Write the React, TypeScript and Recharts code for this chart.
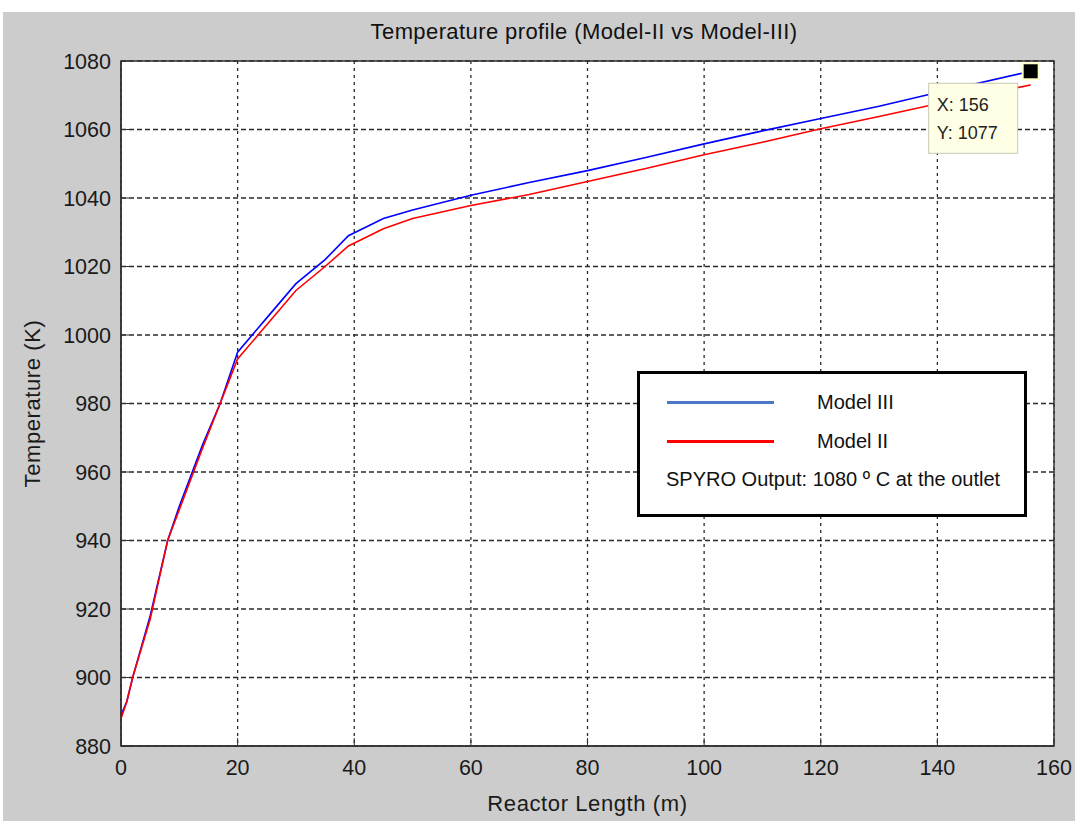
import {
  LineChart,
  Line,
  XAxis,
  YAxis,
  CartesianGrid,
  ReferenceArea,
  ReferenceDot,
} from "recharts";

// reactor length (m) sample points
const lengthM = [0, 1, 2, 5, 8, 10, 14, 17, 20, 25, 30, 35, 39, 45, 50, 60, 70, 80, 90, 100, 110, 120, 130, 140, 156];
// temperatures (K)
const modelIII = [889, 893, 900, 918, 940, 950, 968, 980, 995, 1005, 1015, 1022, 1029, 1034, 1036.5, 1040.8, 1044.5, 1048, 1051.8, 1055.8, 1059.6, 1063.2, 1066.8, 1070.8, 1077];
const modelII = [888, 893, 900, 917, 940, 949, 967, 980, 993, 1003, 1013, 1020, 1026, 1031, 1034, 1037.8, 1041, 1044.8, 1048.6, 1052.6, 1056.3, 1060.2, 1063.8, 1067.5, 1073];

const xTicks = [0, 20, 40, 60, 80, 100, 120, 140, 160];
const yTicks = [880, 900, 920, 940, 960, 980, 1000, 1020, 1040, 1060, 1080];

const tipPoint = { x: 156, y: 1077 };
const noteText = "SPYRO Output: 1080 º C at the outlet";

const series = [
  { key: "modelIII", name: "Model III", color: "#0000ff", legendColor: "#4a78c6" },
  { key: "modelII", name: "Model II", color: "#ff0000", legendColor: "#ff0000" },
];

const rows = lengthM.map((x, i) => ({ x, modelIII: modelIII[i], modelII: modelII[i] }));

const font = "Liberation Sans, Arial, sans-serif";
const tickFont = { fontSize: 21.5, fill: "#1a1a1a", fontFamily: font };
const labelFont = { fontSize: 22, fill: "#1a1a1a", fontFamily: font, letterSpacing: 0.6 };

function LegendBox() {
  return (
    <div
      style={{
        position: "absolute",
        left: 634,
        top: 359,
        width: 384,
        height: 140,
        border: "3px solid #000",
        background: "#fff",
        fontFamily: font,
        fontSize: 20,
        color: "#111",
      }}
    >
      {series.map((s, i) => (
        <div key={s.key} style={{ position: "absolute", left: 27, top: 17 + i * 39, display: "flex", alignItems: "center" }}>
          <span style={{ display: "inline-block", width: 107, height: 3, background: s.legendColor }} />
          <span style={{ marginLeft: 43 }}>{s.name}</span>
        </div>
      ))}
      <div style={{ position: "absolute", left: 26, top: 94 }}>{noteText}</div>
    </div>
  );
}

function DataTip(props: any) {
  const { cx, cy } = props;
  if (cx == null || cy == null) return null;
  return (
    <g>
      <rect x={cx - 102} y={cy + 12} width={89} height={70} fill="#ffffe6" stroke="#c8c8b4" />
      <text x={cx - 94} y={cy + 40} fontSize={18} fill="#222" fontFamily={font}>
        X: {tipPoint.x}
      </text>
      <text x={cx - 94} y={cy + 68} fontSize={18} fill="#222" fontFamily={font}>
        Y: {tipPoint.y}
      </text>
      <rect x={cx - 8} y={cy - 8} width={16} height={16} fill="#000" stroke="#ffffcc" strokeWidth={2} />
    </g>
  );
}

export default function App() {
  return (
    <div style={{ position: "absolute", left: 3, top: 12, width: 1072, height: 809, background: "#cccccc" }}>
      <div
        style={{
          position: "absolute",
          left: 0,
          width: 1162,
          top: 7,
          textAlign: "center",
          fontFamily: font,
          fontSize: 22,
          letterSpacing: 0.4,
          color: "#111",
        }}
      >
        Temperature profile (Model-II vs Model-III)
      </div>
      <LineChart width={1072} height={809} data={rows} margin={{ top: 49, right: 21, bottom: 0, left: 0 }}>
        <CartesianGrid fill="#ffffff" horizontal={false} stroke="#2a2a2a" strokeDasharray="3 4" strokeWidth={1.3} />
        <CartesianGrid vertical={false} stroke="#2a2a2a" strokeDasharray="5 3" strokeWidth={1.3} />
        <XAxis
          dataKey="x"
          type="number"
          domain={[0, 160]}
          ticks={xTicks}
          height={75}
          tick={tickFont}
          tickSize={-8}
          tickMargin={22}
          stroke="#333"
          axisLine={{ stroke: "#333", strokeWidth: 1.5 }}
          label={{ value: "Reactor Length (m)", position: "insideBottom", offset: 10, style: labelFont }}
        />
        <YAxis
          type="number"
          domain={[880, 1080]}
          ticks={yTicks}
          width={118}
          tick={tickFont}
          tickSize={-8}
          tickMargin={18}
          stroke="#333"
          axisLine={{ stroke: "#333", strokeWidth: 1.5 }}
          label={{ value: "Temperature (K)", angle: -90, position: "insideLeft", offset: 29, style: { ...labelFont, textAnchor: "middle" } }}
        />
        <ReferenceArea x1={0} x2={160} y1={880} y2={1080} fill="none" stroke="#333" strokeWidth={1.5} />
        {series.map((s) => (
          <Line
            key={s.key}
            type="linear"
            dataKey={s.key}
            name={s.name}
            stroke={s.color}
            strokeWidth={1.6}
            dot={false}
            isAnimationActive={false}
          />
        ))}
        <ReferenceDot x={tipPoint.x} y={tipPoint.y} ifOverflow="visible" shape={DataTip} />
      </LineChart>
      <LegendBox />
    </div>
  );
}
